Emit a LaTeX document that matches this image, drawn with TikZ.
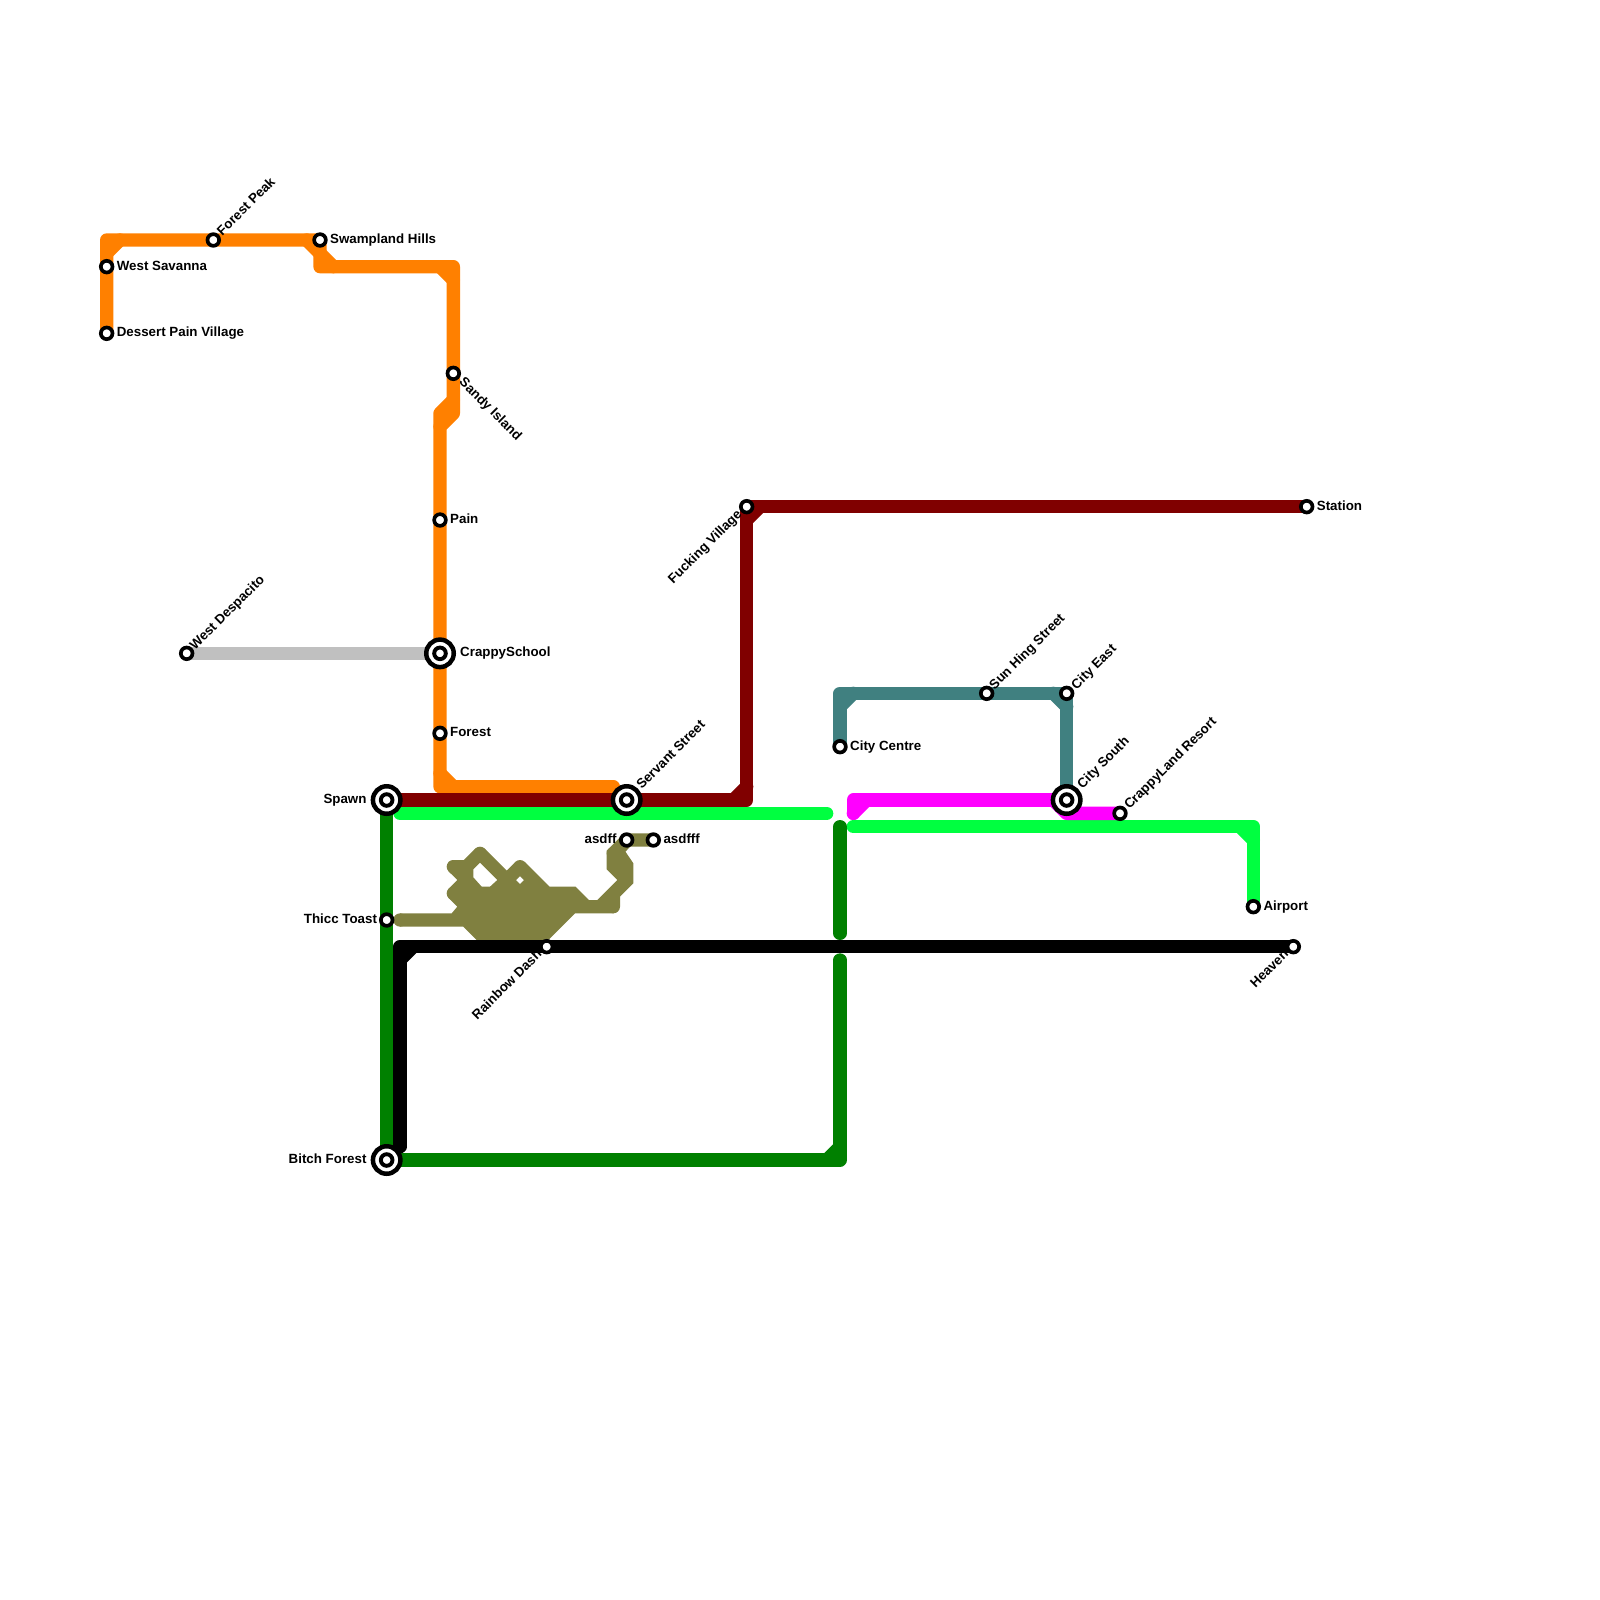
\documentclass[tikz,border=0pt]{standalone}
\usepackage{fontspec}
\setmainfont{Liberation Sans}[BoldFont={Liberation Sans Bold}]
\usetikzlibrary{backgrounds}
\definecolor{cOrange}{HTML}{FF8000}
\definecolor{cRed}{HTML}{800000}
\definecolor{cLime}{HTML}{00FF40}
\definecolor{cGreen}{HTML}{008000}
\definecolor{cTeal}{HTML}{408080}
\definecolor{cMag}{HTML}{FF00FF}
\definecolor{cSilver}{HTML}{C0C0C0}
\definecolor{cOlive}{HTML}{808040}
\tikzset{
  metro/.style={line width=13.333pt,line cap=round,line join=round},
  st/.style={circle,draw=black,fill=white,line width=3.67pt,minimum size=11.67pt,inner sep=0pt},
  bigst/.style={circle,draw=black,fill=white,line width=4.5pt,minimum size=27.5pt,inner sep=0pt,
    path picture={\draw[black,line width=3.9pt] (path picture bounding box.center) circle (5.8pt);}},
  lbl/.style={font=\bfseries\fontsize{13.33pt}{14pt}\selectfont,text=black,inner sep=0pt,text height=9.5pt,text depth=2.8pt},
  lblR/.style={lbl,anchor=west},
  lblL/.style={lbl,anchor=east},
  lblUp/.style={lbl,anchor=west,rotate=45},
  lblDn/.style={lbl,anchor=east,rotate=45},
  lblSE/.style={lbl,anchor=west,rotate=-45},
}
\begin{document}
\begin{tikzpicture}[x=13.3333pt,y=-13.3333pt]
\useasboundingbox (0,0) rectangle (120,120);
% stations
\node[st] (ws) at (8,20) {};
\node[st] (dp) at (8,25) {};
\node[st] (fp) at (16,18) {};
\node[st] (sh) at (24,18) {};
\node[st] (si) at (34,28) {};
\node[st] (pn) at (33,39) {};
\node[bigst] (cs) at (33,49) {};
\node[st] (fo) at (33,55) {};
\node[st] (wd) at (14,49) {};
\node[bigst] (sp) at (29,60) {};
\node[bigst] (sv) at (47,60) {};
\node[st] (tt) at (29,69) {};
\node[bigst] (bf) at (29,87) {};
\node[st] (rd) at (41,71) {};
\node[st] (hv) at (97,71) {};
\node[st] (fv) at (56,38) {};
\node[st] (sn) at (98,38) {};
\node[st] (as) at (47,63) {};
\node[st] (af) at (49,63) {};
\node[st] (cc) at (63,56) {};
\node[st] (hs) at (74,52) {};
\node[st] (ce) at (80,52) {};
\node[bigst] (so) at (80,60) {};
\node[st] (cl) at (84,61) {};
\node[st] (ap) at (94,68) {};
% labels
\node[lblR] at ([shift={(10pt,0pt)}]ws.center) {West Savanna};
\node[lblR] at ([shift={(10pt,0pt)}]dp.center) {Dessert Pain Village};
\node[lblUp] at ([shift={(6.5pt,6pt)}]fp.center) {Forest Peak};
\node[lblR] at ([shift={(10pt,0pt)}]sh.center) {Swampland Hills};
\node[lblSE] at ([shift={(7.5pt,-7pt)}]si.center) {Sandy Island};
\node[lblR] at ([shift={(10pt,0pt)}]pn.center) {Pain};
\node[lblR] at ([shift={(20pt,0pt)}]cs.center) {CrappySchool};
\node[lblR] at ([shift={(10pt,0pt)}]fo.center) {Forest};
\node[lblUp] at ([shift={(6pt,5pt)}]wd.center) {West Despacito};
\node[lblL] at ([shift={(-20pt,0pt)}]sp.center) {Spawn};
\node[lblUp] at ([shift={(12.7pt,12.7pt)}]sv.center) {Servant Street};
\node[lblL] at ([shift={(-9.5pt,0pt)}]tt.center) {Thicc Toast};
\node[lblL] at ([shift={(-20pt,0pt)}]bf.center) {Bitch Forest};
\node[lblDn] at ([shift={(-6.5pt,-6pt)}]rd.center) {Rainbow Dash};
\node[lblDn] at ([shift={(-6.5pt,-6pt)}]hv.center) {Heaven};
\node[lblDn] at ([shift={(-6.5pt,-6pt)}]fv.center) {Fucking Village};
\node[lblR] at ([shift={(10pt,0pt)}]sn.center) {Station};
\node[lblL] at ([shift={(-10pt,0pt)}]as.center) {asdff};
\node[lblR] at ([shift={(10pt,0pt)}]af.center) {asdfff};
\node[lblR] at ([shift={(10pt,0pt)}]cc.center) {City Centre};
\node[lblUp] at ([shift={(5.5pt,5.5pt)}]hs.center) {Sun Hing Street};
\node[lblUp] at ([shift={(7.5pt,5.5pt)}]ce.center) {City East};
\node[lblUp] at ([shift={(13.5pt,13pt)}]so.center) {City South};
\node[lblUp] at ([shift={(7pt,5.6pt)}]cl.center) {CrappyLand Resort};
\node[lblR] at ([shift={(10pt,0pt)}]ap.center) {Airport};
% lines
\begin{scope}[on background layer]
\fill[white] (0,0) rectangle (120,120);
\draw[metro,cSilver] (wd.center) -- (cs.center);
% olive blob
\begin{scope}[x=1pt,y=-1pt]
\fill[cOlive,even odd rule]
 (400,913.33) -- (451.7,913.33) -- (457.3,906.67) -- (448.62,898.04) -- (448.62,888.62) -- (457.3,880)
 -- (448.62,871.38) -- (448.62,861.95) -- (453.33,860) -- (463.9,860) -- (475.29,848.62) -- (484.71,848.62)
 -- (506.67,870.57) -- (515.29,861.95) -- (524.71,861.95) -- (549.43,886.67) -- (575.6,886.67) -- (588.9,900)
 -- (597.3,900) -- (617.3,880) -- (606.67,869.3) -- (606.67,850.57) -- (621.96,835.29) -- (626.67,833.33)
 -- (653.33,833.33) -- (653.33,846.67) -- (630,846.67) -- (625.5,851.7) -- (633.33,863.3) -- (633.33,883.3)
 -- (620,896.67) -- (620,906.67) -- (613.33,913.33) -- (575,913.33) -- (546.67,941.67) -- (478.33,941.67)
 -- (463.3,926.67) -- (400,926.67) -- cycle
 (480,862.67) -- (497.3,880) -- (490,886.67) -- (481.67,886.67) -- (473.3,877.3) -- (473.3,869.3) -- cycle
 (520,876) -- (524,880) -- (520,884) -- (516,880) -- cycle;
\fill[cOlive] (400,920) circle (6.667pt) (453.33,893.33) circle (6.667pt) (453.33,866.67) circle (6.667pt)
 (480,853.33) circle (6.667pt) (520,866.67) circle (6.667pt) (613.33,906.67) circle (6.667pt)
 (613.33,853.33) circle (6.667pt);
\end{scope}
% orange
\draw[metro,cOrange] (dp.center) -- (ws.center) -- (8,18) -- (fp.center) -- (sh.center) -- (24,20) -- (34,20) -- (34,31) -- (33,32) -- (33,59) -- (46,59);
\draw[metro,cOrange] (8,19) -- (9,18);
\draw[metro,cOrange] (23,18) -- (25,20);
\draw[metro,cOrange] (33,20) -- (34,21);
\draw[metro,cOrange] (34,30) -- (33,31) -- (33,32);
\draw[metro,cOrange] (33,58) -- (34,59);
% lime
\draw[metro,cLime] (30,61) -- (62,61);
\draw[metro,cLime] (64,62) -- (94,62) -- (ap.center);
\draw[metro,cLime] (93,62) -- (94,63);
% dark red
\draw[metro,cRed] (sp.center) -- (56,60) -- (fv.center) -- (sn.center);
\draw[metro,cRed] (55,60) -- (56,59);
\draw[metro,cRed] (56,39) -- (57,38);
% dark green
\draw[metro,cGreen] (sp.center) -- (bf.center) -- (63,87) -- (63,72);
\draw[metro,cGreen] (62,87) -- (63,86);
\draw[metro,cGreen] (63,62) -- (63,70);
% teal
\draw[metro,cTeal] (cc.center) -- (63,52) -- (ce.center) -- (so.center);
\draw[metro,cTeal] (63,53) -- (64,52);
\draw[metro,cTeal] (79,52) -- (80,53);
% magenta
\draw[metro,cMag] (64,61) -- (64,60) -- (so.center);
\draw[metro,cMag] (64,61) -- (65,60);
\draw[metro,cMag] (79,60) -- (80,61) -- (cl.center);
% black
\draw[metro,black] (30,86) -- (30,71) -- (hv.center);
\draw[metro,black] (30,72) -- (31,71);
\end{scope}
\end{tikzpicture}
\end{document}
